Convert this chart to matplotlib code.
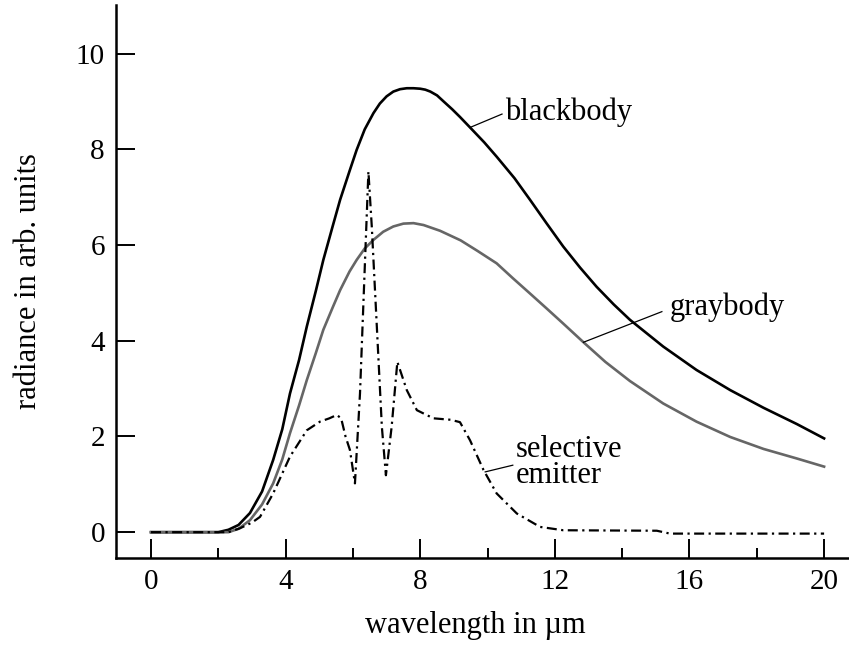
import matplotlib
matplotlib.use("Agg")
import matplotlib.pyplot as plt

plt.rcParams['font.family'] = ['Liberation Serif', 'DejaVu Serif']

# curves (wavelength in um, radiance in arb. units)
bb_x = [0, 2.0, 2.3, 2.6, 2.94, 3.3, 3.63, 3.9, 4.13, 4.4, 4.63, 4.9, 5.12, 5.4,
        5.62, 5.9, 6.11, 6.35, 6.61, 6.8, 7.0, 7.2, 7.4, 7.6, 7.8, 8.0, 8.15, 8.3,
        8.5, 8.7, 8.95, 9.18, 9.48, 9.9, 10.27, 10.8, 11.26, 11.75, 12.25, 12.75,
        13.24, 13.75, 14.23, 15.22, 16.21, 17.21, 18.2, 19.19, 20.0]
bb_y = [0, 0, 0.05, 0.15, 0.40, 0.85, 1.51, 2.15, 2.9, 3.6, 4.30, 5.05, 5.69, 6.4,
        6.95, 7.55, 7.99, 8.42, 8.76, 8.96, 9.11, 9.21, 9.26, 9.28, 9.28, 9.27, 9.25,
        9.21, 9.13, 9.0, 8.84, 8.68, 8.46, 8.15, 7.85, 7.4, 6.95, 6.46, 5.97, 5.53,
        5.13, 4.76, 4.44, 3.88, 3.39, 2.97, 2.6, 2.26, 1.96]

gb_x = [0, 2.3, 2.6, 2.94, 3.3, 3.63, 3.9, 4.13, 4.4, 4.63, 4.9, 5.12, 5.4, 5.62,
        5.9, 6.11, 6.35, 6.61, 6.9, 7.2, 7.5, 7.8, 8.1, 8.59, 9.2, 9.7, 10.27, 10.75,
        11.26, 11.75, 12.25, 12.85, 13.5, 14.23, 15.22, 16.21, 17.21, 18.2, 19.19, 20.0]
gb_y = [0, 0, 0.07, 0.25, 0.58, 1.02, 1.52, 2.07, 2.65, 3.18, 3.75, 4.23, 4.7, 5.06,
        5.45, 5.69, 5.93, 6.11, 6.28, 6.39, 6.45, 6.46, 6.42, 6.3, 6.1, 5.88, 5.62, 5.31,
        4.99, 4.68, 4.36, 3.97, 3.56, 3.16, 2.69, 2.31, 1.99, 1.74, 1.54, 1.37]

se_x = [0, 2.3, 2.64, 3.0, 3.24, 3.63, 4.13, 4.63, 5.02, 5.3, 5.52, 5.65, 5.78,
        5.91, 6.06, 6.21, 6.36, 6.46, 6.56, 6.71, 6.86, 6.98, 7.15, 7.32, 7.6,
        7.9, 8.39, 8.9, 9.18, 9.48, 9.88, 10.27, 10.87, 11.56, 12.25, 15.03,
        15.42, 20.0]
se_y = [0, 0, 0.08, 0.2, 0.32, 0.81, 1.58, 2.13, 2.31, 2.38, 2.45, 2.38, 2.0,
        1.72, 1.02, 2.9, 5.69, 7.54, 6.39, 4.3, 2.2, 1.19, 2.2, 3.56, 2.97,
        2.55, 2.38, 2.35, 2.3, 1.92, 1.3, 0.81, 0.39, 0.11, 0.04, 0.03,
        -0.03, -0.03]

x_ticks = [0, 4, 8, 12, 16, 20]
x_minor = [2, 6, 10, 14, 18]
y_ticks = [0, 2, 4, 6, 8, 10]

fig = plt.figure(figsize=(8.49, 6.53), dpi=100)
ax = fig.add_axes([116/849, 95/653, 733/849, 553/653])

ax.plot(bb_x, bb_y, color='black', lw=1.9)
ax.plot(gb_x, gb_y, color='#666666', lw=1.9)
ax.plot(se_x, se_y, color='black', lw=1.6, dashes=(4.5, 2, 1, 2))

ax.set_xlim(-1.04, 20.74)
ax.set_ylim(-0.54, 11.02)

for s in ['top', 'right']:
    ax.spines[s].set_visible(False)
for s in ['left', 'bottom']:
    ax.spines[s].set_linewidth(1.8)

ax.set_xticks(x_ticks)
ax.set_xticks(x_minor, minor=True)
ax.set_yticks(y_ticks)
ax.tick_params(which='major', direction='in', length=13.5, width=1.4, labelsize=21, pad=8)
ax.tick_params(which='minor', direction='in', length=7.5, width=1.4)

ax.set_xlabel('wavelength in µm', fontsize=22)
ax.set_ylabel('radiance in arb. units', fontsize=22)
ax.xaxis.set_label_coords(0.49, -0.095)
ax.yaxis.set_label_coords(-0.10, 0.5)

# labels with leader lines
ax.plot([9.48, 10.43], [8.46, 8.74], color='black', lw=0.9)
ax.text(10.52, 8.62, 'blackbody', fontsize=22, va='baseline')
ax.plot([12.85, 15.18], [3.97, 4.61], color='black', lw=0.9)
ax.text(15.4, 4.54, 'graybody', fontsize=22, va='baseline')
ax.plot([9.93, 10.75], [1.26, 1.40], color='black', lw=0.9)
ax.text(10.85, 1.58, 'selective', fontsize=22, va='baseline')
ax.text(10.85, 1.03, 'emitter', fontsize=22, va='baseline')

fig.savefig('out.png', dpi=100)
